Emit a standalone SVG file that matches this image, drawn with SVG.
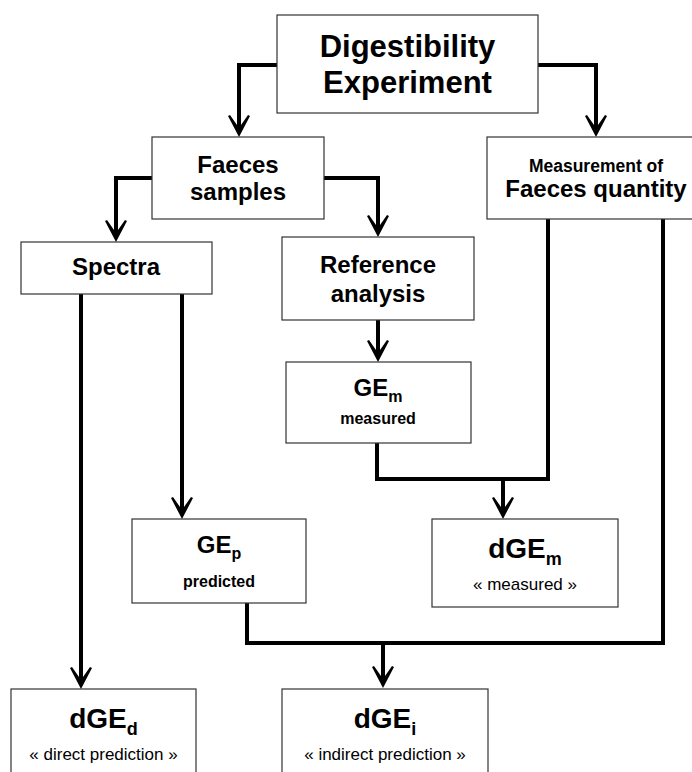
<svg xmlns="http://www.w3.org/2000/svg" width="692" height="772" viewBox="0 0 692 772">
<style>
.box{fill:#fff;stroke:#333;stroke-width:1.2}
.t{font-family:"Liberation Sans",Arial,sans-serif;font-weight:bold;fill:#000;text-anchor:middle}
.c{fill:none;stroke:#000;stroke-width:4;stroke-linejoin:miter}
</style>
<defs>
<marker id="ah" markerUnits="userSpaceOnUse" orient="auto" markerWidth="40" markerHeight="40" refX="0" refY="0" viewBox="-20 -20 40 40" overflow="visible">
<path d="M10,0 L-11,-11 L-12,-9 L-2,-2 L-2,2 L-12,9 L-11,11 Z" fill="#000"/>
</marker>
</defs>
<g id="connectors">
<path class="c" d="M277,65 H239 V127" marker-end="url(#ah)"/>
<path class="c" d="M538,65 H596 V127" marker-end="url(#ah)"/>
<path class="c" d="M152,178 H116 V232" marker-end="url(#ah)"/>
<path class="c" d="M324,178 H378 V227" marker-end="url(#ah)"/>
<path class="c" d="M378,320 V352" marker-end="url(#ah)"/>
<path class="c" d="M548,219 V479 H377 V443"/>
<path class="c" d="M503,479 V509" marker-end="url(#ah)"/>
<path class="c" d="M81,294 V679" marker-end="url(#ah)"/>
<path class="c" d="M182,294 V509" marker-end="url(#ah)"/>
<path class="c" d="M247,603 V643 H663 V219"/>
<path class="c" d="M383,643 V678" marker-end="url(#ah)"/>
</g>
<g id="digestibility">
<rect class="box" x="277" y="15" width="261" height="98"/>
<text class="t" x="407.5" y="57" font-size="31">Digestibility</text>
<text class="t" x="407.5" y="93" font-size="31">Experiment</text>
</g>
<g id="faeces-samples">
<rect class="box" x="152" y="137" width="172" height="82"/>
<text class="t" x="238" y="173" font-size="24">Faeces</text>
<text class="t" x="238" y="200" font-size="24">samples</text>
</g>
<g id="measurement">
<rect class="box" x="487" y="137" width="210" height="82"/>
<text class="t" x="596" y="172" font-size="17.5">Measurement of</text>
<text class="t" x="596" y="197" font-size="24">Faeces quantity</text>
</g>
<g id="spectra">
<rect class="box" x="21" y="242" width="191" height="52"/>
<text class="t" x="116" y="275" font-size="24">Spectra</text>
</g>
<g id="reference">
<rect class="box" x="282" y="237" width="192" height="83"/>
<text class="t" x="378" y="273" font-size="24">Reference</text>
<text class="t" x="378" y="302" font-size="24">analysis</text>
</g>
<g id="gem">
<rect class="box" x="286" y="362" width="185" height="81"/>
<text class="t" x="378" y="396" font-size="24">GE<tspan font-size="16" dy="6">m</tspan></text>
<text class="t" x="378" y="424" font-size="16">measured</text>
</g>
<g id="gep">
<rect class="box" x="132" y="519" width="174" height="84"/>
<text class="t" x="219" y="553" font-size="24">GE<tspan font-size="16" dy="6">p</tspan></text>
<text class="t" x="219" y="587" font-size="16">predicted</text>
</g>
<g id="dgem">
<rect class="box" x="432" y="519" width="186" height="88"/>
<text class="t" x="525" y="558" font-size="28">dGE<tspan font-size="18" dy="7">m</tspan></text>
<text class="t" x="525" y="590" font-size="17" font-weight="normal" style="font-weight:normal">« measured »</text>
</g>
<g id="dged">
<rect class="box" x="11" y="689" width="185" height="100"/>
<text class="t" x="103.5" y="728" font-size="28">dGE<tspan font-size="18" dy="7">d</tspan></text>
<text class="t" x="103.5" y="760" font-size="17" style="font-weight:normal">« direct prediction »</text>
</g>
<g id="dgei">
<rect class="box" x="282" y="689" width="206" height="100"/>
<text class="t" x="385" y="728" font-size="28">dGE<tspan font-size="18" dy="7">i</tspan></text>
<text class="t" x="385" y="760" font-size="17" style="font-weight:normal">« indirect prediction »</text>
</g>
</svg>
